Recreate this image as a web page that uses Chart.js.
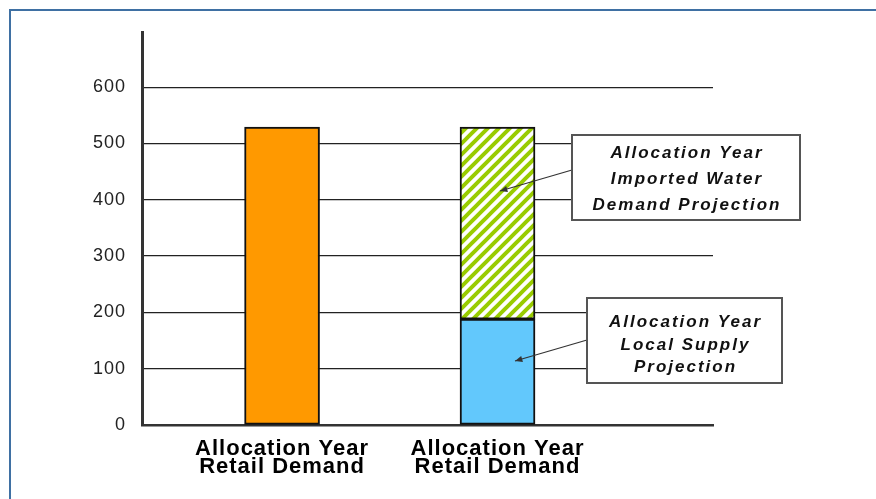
<!DOCTYPE html>
<html>
<head>
<meta charset="utf-8">
<script src="https://cdn.jsdelivr.net/npm/chart.js@4/dist/chart.umd.min.js"></script>
<style>
  html, body { margin: 0; padding: 0; background: #fff; }
  #wrap { width: 876px; height: 499px; }
</style>
</head>
<body>
<div id="wrap"><canvas id="chart" width="876" height="499"></canvas></div>
<script>
  // ---- Data ----
  const categories = [
    ['Allocation Year', 'Retail Demand'],
    ['Allocation Year', 'Retail Demand']
  ];
  const retailDemand = [529, null];
  const localSupply = [null, 188];
  const importedWater = [null, 341];
  const yTicks = [0, 100, 200, 300, 400, 500, 600];

  const notes = [
    { lines: ['Allocation Year', 'Imported Water', 'Demand Projection'] },
    { lines: ['Allocation Year', 'Local Supply', 'Projection'] }
  ];

  // ---- Hatch pattern for imported water ----
  function makeHatch() {
    const s = 11;
    const pc = document.createElement('canvas');
    pc.width = s; pc.height = s;
    const c = pc.getContext('2d');
    c.fillStyle = '#ffffff';
    c.fillRect(0, 0, s, s);
    c.strokeStyle = '#99cc00';
    c.lineWidth = 4;
    c.beginPath();
    c.moveTo(0, s); c.lineTo(s, 0);
    c.moveTo(-s / 2, s / 2); c.lineTo(s / 2, -s / 2);
    c.moveTo(s / 2, s * 1.5); c.lineTo(s * 1.5, s / 2);
    c.stroke();
    return document.getElementById('chart').getContext('2d').createPattern(pc, 'repeat');
  }

  const toPoints = arr => arr.map((v, i) => ({ x: i + 1, y: v }));

  // ---- Frame, letter spacing and callout boxes ----
  const extras = {
    id: 'extras',
    beforeDraw(chart) {
      const ctx = chart.ctx;
      ctx.save();
      ctx.strokeStyle = '#3f70a3';
      ctx.lineWidth = 2;
      ctx.beginPath();
      ctx.moveTo(10, chart.height);
      ctx.lineTo(10, 10);
      ctx.lineTo(chart.width, 10);
      ctx.stroke();
      ctx.restore();
      ctx.letterSpacing = '1px';
    },
    afterDraw(chart) {
      const ctx = chart.ctx;
      const boxes = [
        { x: 572, y: 135, w: 228, h: 85, base: 158, step: 26, from: [572, 170], to: [500, 191] },
        { x: 587, y: 298, w: 195, h: 85, base: 327, step: 22.5, from: [587, 340], to: [515, 361] }
      ];
      ctx.save();
      boxes.forEach((b, i) => {
        // arrow
        ctx.strokeStyle = '#333';
        ctx.fillStyle = '#333';
        ctx.lineWidth = 1.2;
        ctx.beginPath();
        ctx.moveTo(b.from[0], b.from[1]);
        ctx.lineTo(b.to[0], b.to[1]);
        ctx.stroke();
        const ang = Math.atan2(b.to[1] - b.from[1], b.to[0] - b.from[0]);
        ctx.beginPath();
        ctx.moveTo(b.to[0], b.to[1]);
        ctx.lineTo(b.to[0] - 8 * Math.cos(ang - 0.4), b.to[1] - 8 * Math.sin(ang - 0.4));
        ctx.lineTo(b.to[0] - 8 * Math.cos(ang + 0.4), b.to[1] - 8 * Math.sin(ang + 0.4));
        ctx.closePath();
        ctx.fill();
        // box
        ctx.fillStyle = '#fff';
        ctx.fillRect(b.x, b.y, b.w, b.h);
        ctx.strokeStyle = '#555';
        ctx.lineWidth = 2;
        ctx.strokeRect(b.x, b.y, b.w, b.h);
        // text
        ctx.fillStyle = '#111';
        ctx.font = 'italic bold 17px "Liberation Sans", Arial, sans-serif';
        ctx.letterSpacing = '2px';
        ctx.textAlign = 'center';
        ctx.textBaseline = 'alphabetic';
        notes[i].lines.forEach((t, k) => {
          ctx.fillText(t, b.x + b.w / 2 + 1, b.base + k * b.step);
        });
      });
      ctx.restore();
      ctx.letterSpacing = '0px';
    }
  };

  const hatch = makeHatch();

  new Chart(document.getElementById('chart'), {
    type: 'bar',
    data: {
      datasets: [
        {
          label: 'Retail Demand',
          data: toPoints(retailDemand),
          backgroundColor: '#ff9900',
          borderColor: '#111',
          borderWidth: 2,
          borderSkipped: false,
          barThickness: 75
        },
        {
          label: 'Local Supply Projection',
          data: toPoints(localSupply),
          backgroundColor: '#62c8fc',
          borderColor: '#111',
          borderWidth: 2,
          borderSkipped: false,
          barThickness: 75
        },
        {
          label: 'Imported Water Demand Projection',
          data: toPoints(importedWater),
          backgroundColor: hatch,
          borderColor: '#111',
          borderWidth: 2,
          borderSkipped: false,
          barThickness: 75
        }
      ]
    },
    options: {
      responsive: false,
      animation: false,
      layout: { padding: { left: 0, top: 32, right: 163, bottom: 0 } },
      plugins: {
        legend: { display: false },
        tooltip: { enabled: false }
      },
      scales: {
        x: {
          type: 'linear',
          stacked: true,
          offset: false,
          min: 0.35,
          max: 3.0,
          afterBuildTicks: scale => { scale.ticks = categories.map((c, i) => ({ value: i + 1 })); },
          afterFit: scale => { scale.height = 74; },
          grid: { display: false },
          border: { display: true, color: '#333', width: 2.5 },
          ticks: {
            autoSkip: false,
            maxRotation: 0,
            padding: 6,
            color: '#000',
            font: { family: '"Liberation Sans", Arial, sans-serif', size: 22, weight: 'bold', lineHeight: 0.86 },
            callback: (v, i) => categories[i]
          }
        },
        y: {
          stacked: true,
          min: 0,
          max: 698,
          afterBuildTicks: scale => { scale.ticks = yTicks.map(v => ({ value: v })); },
          afterFit: scale => { scale.width = 142; },
          grid: { color: '#222', lineWidth: 1.3, drawTicks: false },
          border: { display: true, color: '#333', width: 3 },
          ticks: {
            padding: 16,
            color: '#222',
            font: { family: '"Liberation Sans", Arial, sans-serif', size: 18 }
          }
        }
      }
    },
    plugins: [extras]
  });
</script>
</body>
</html>
